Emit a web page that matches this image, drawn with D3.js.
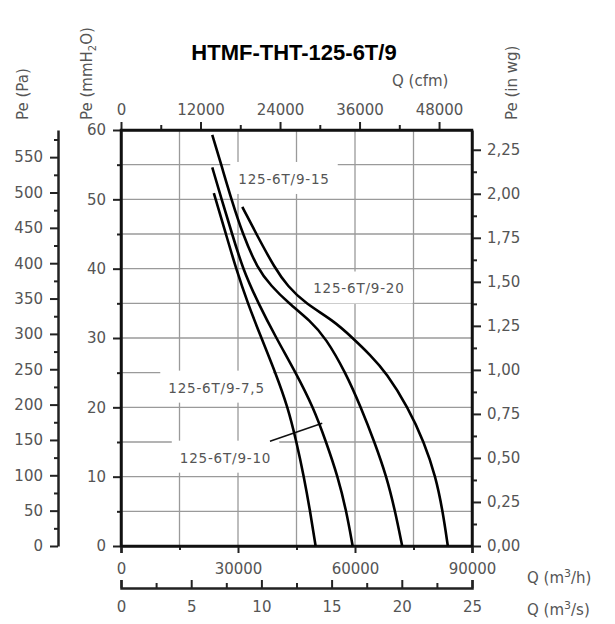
<!DOCTYPE html>
<html><head><meta charset="utf-8">
<script src="https://cdn.jsdelivr.net/npm/d3@7"></script>
<style>
body{margin:0;background:#fff;}
svg{display:block;}
.tk text{font-family:"DejaVu Sans",sans-serif;font-size:15px;fill:#555;}
.tk path.domain{stroke:#222;stroke-width:2.5;}
.tk line{stroke:#222;stroke-width:2;}
.lab{font-family:"DejaVu Sans",sans-serif;fill:#555;}
</style></head>
<body>
<svg id="c" width="615" height="624"></svg>
<script>
// ---- data (Q in m3/h, Pe in mmH2O) ----
const seriesNames = ["125-6T/9-7,5","125-6T/9-10","125-6T/9-15","125-6T/9-20"];
const curve75 = [[23800,50.9],[26900,45],[29500,40],[32500,35],[36000,30],[39600,25],[42800,20],[45000,15],[46900,10],[48500,5],[49900,0]];
const curve10 = [[23400,54.6],[25800,50],[28500,45],[31200,40],[35200,35],[39800,30],[44800,25],[49300,20],[52600,15],[55600,10],[57800,5],[59400,0]];
const curve15 = [[23400,59.3],[25700,55],[28300,50],[31200,45],[35000,40],[38500,37.5],[43000,35],[48500,32.5],[52500,30],[57600,25],[61500,20],[65000,15],[68100,10],[70300,5],[72100,0]];
const curve20 = [[31100,48.9],[34700,45],[39500,40],[42700,37.5],[47200,35],[54500,32.5],[59400,30],[64000,27.5],[68000,25],[73600,20],[77700,15],[80700,10],[82500,5],[83800,0]];
const qhTicks = [0,30000,60000,90000];
const qhMinor = [15000,45000,75000];
const qsTicks = [0,5,10,15,20,25];
const cfmTicks = [0,12000,24000,36000,48000];
const mmTicks = [0,10,20,30,40,50,60];
const paTicks = [0,50,100,150,200,250,300,350,400,450,500,550];
const wgTicks = [0,0.25,0.5,0.75,1.0,1.25,1.5,1.75,2.0,2.25];
const title = "HTMF-THT-125-6T/9";

const svg = d3.select("#c");
const L=121,R=472,T=130,B=546;
const x = d3.scaleLinear().domain([0,90000]).range([L,R]);
const y = d3.scaleLinear().domain([0,60]).range([B,T]);
const xCfm = d3.scaleLinear().domain([0,90000/1.699]).range([L,R]);
const xS = d3.scaleLinear().domain([0,25]).range([L,R]);
const yPa = d3.scaleLinear().domain([0,60*9.80665]).range([B,T]);
const yWg = d3.scaleLinear().domain([0,60/25.4]).range([B,T]);
const fmtC = d => d3.format(".2f")(d).replace(".",",");

// grid
const g = svg.append("g");
g.selectAll(".vg").data(d3.range(15000,90000,15000)).join("line")
 .attr("x1",d=>x(d)).attr("x2",d=>x(d)).attr("y1",T).attr("y2",B)
 .attr("stroke","#9a9a9a").attr("stroke-width",1.3);
g.selectAll(".hg").data(d3.range(5,60,5)).join("line")
 .attr("y1",d=>y(d)).attr("y2",d=>y(d)).attr("x1",L).attr("x2",R)
 .attr("stroke","#9a9a9a").attr("stroke-width",1.3);

const labels = [
 {t:seriesNames[2], q:41800, p:52.9},
 {t:seriesNames[3], q:61000, p:37.1},
 {t:seriesNames[0], q:24500, p:22.8},
 {t:seriesNames[1], q:26800, p:12.7}
];

function axis(gen, tr){
  return svg.append("g").attr("class","tk").attr("transform",tr).call(gen);
}
// bottom m3/h
axis(d3.axisBottom(x).tickValues(qhMinor).tickSize(4).tickFormat(""),`translate(0,${B})`).select(".domain").remove();
axis(d3.axisBottom(x).tickValues(qhTicks).tickSize(7).tickPadding(10).tickFormat(d3.format("d")),`translate(0,${B})`);
// bottom m3/s
axis(d3.axisTop(xS).tickValues(d3.range(2.5,25,5)).tickSize(5).tickFormat(""),`translate(0,588)`).select(".domain").remove();
const as = axis(d3.axisTop(xS).tickValues(qsTicks).tickSize(8).tickFormat(d3.format("d")).tickSizeOuter(8),`translate(0,588)`);
as.selectAll(".tick text").attr("dy","0").attr("y",24);
// top cfm
axis(d3.axisTop(xCfm).tickValues(d3.range(6000,54000,12000)).tickSize(5).tickFormat(""),`translate(0,${T})`).select(".domain").remove();
axis(d3.axisTop(xCfm).tickValues(cfmTicks).tickSize(8).tickPadding(7).tickSizeOuter(0).tickFormat(d3.format("d")),`translate(0,${T})`);
// left mmH2O
axis(d3.axisLeft(y).tickValues(d3.range(5,60,10)).tickSize(4).tickFormat(""),`translate(${L},0)`).select(".domain").remove();
axis(d3.axisLeft(y).tickValues(mmTicks).tickSize(8).tickPadding(7).tickSizeOuter(0).tickFormat(d3.format("d")),`translate(${L},0)`);
// left Pa
axis(d3.axisLeft(yPa).tickValues(d3.range(25,588,50)).tickSize(4).tickFormat(""),`translate(58,0)`).select(".domain").remove();
axis(d3.axisLeft(yPa).tickValues(paTicks).tickSize(8).tickPadding(7).tickSizeOuter(0).tickFormat(d3.format("d")),`translate(58,0)`);
// right in wg
axis(d3.axisRight(yWg).tickValues(d3.range(0.125,2.36,0.25)).tickSize(5).tickFormat(""),`translate(${R},0)`).select(".domain").remove();
axis(d3.axisRight(yWg).tickValues(wgTicks).tickSize(9).tickPadding(6).tickSizeOuter(0).tickFormat(fmtC),`translate(${R},0)`);

// frame
svg.append("rect").attr("x",L).attr("y",T).attr("width",R-L).attr("height",B-T)
 .attr("fill","none").attr("stroke","#111").attr("stroke-width",2.5);

// curve labels with white breaks in grid
labels.forEach(l=>{
  const tx = svg.append("text").attr("class","lab").attr("font-size",13.5).attr("letter-spacing","0.8px")
   .attr("x",x(l.q)).attr("y",y(l.p)).attr("text-anchor","middle").attr("dy","0.35em").text(l.t);
  const bb = tx.node().getBBox();
  svg.insert("rect","text.lab").attr("x",bb.x-8).attr("y",bb.y-9).attr("width",bb.width+16).attr("height",bb.height+16).attr("fill","#fff");
});

// leader line for 10
svg.append("line").attr("x1",x(38200)).attr("y1",y(15.1)).attr("x2",x(51600)).attr("y2",y(17.7))
 .attr("stroke","#111").attr("stroke-width",1.5);

// curves
const line = d3.line().x(d=>x(d[0])).y(d=>y(d[1])).curve(d3.curveBasis);
svg.selectAll(".crv").data([curve75,curve10,curve15,curve20]).join("path")
 .attr("d",line).attr("fill","none").attr("stroke","#000").attr("stroke-width",2.6);

// titles
svg.append("text").attr("x",294).attr("y",60).attr("text-anchor","middle")
 .attr("font-family","'Liberation Sans',Arial,sans-serif").attr("font-weight","bold").attr("font-size",22)
 .attr("fill","#000").text(title);
svg.append("text").attr("class","lab").attr("font-size",15).attr("x",392).attr("y",86).text("Q (cfm)");
function rot(xp, txt, sub){
  const t = svg.append("text").attr("class","lab").attr("font-size",15)
   .attr("transform",`translate(${xp},120) rotate(-90)`);
  t.append("tspan").text(txt);
  if(sub){ t.append("tspan").attr("font-size",10).attr("dy",4).text("2"); t.append("tspan").attr("dy",-4).text("O)"); }
}
rot(28,"Pe (Pa)");
rot(92,"Pe (mmH",true);
rot(517,"Pe (in wg)");
function qlab(yp, u){
  const t = svg.append("text").attr("class","lab").attr("font-size",15).attr("x",527).attr("y",yp);
  t.append("tspan").text("Q (m");
  t.append("tspan").attr("font-size",11).attr("dy",-6).text("3");
  t.append("tspan").attr("dy",6).text("/"+u+")");
}
qlab(583,"h");
qlab(615,"s");
</script>
</body></html>
